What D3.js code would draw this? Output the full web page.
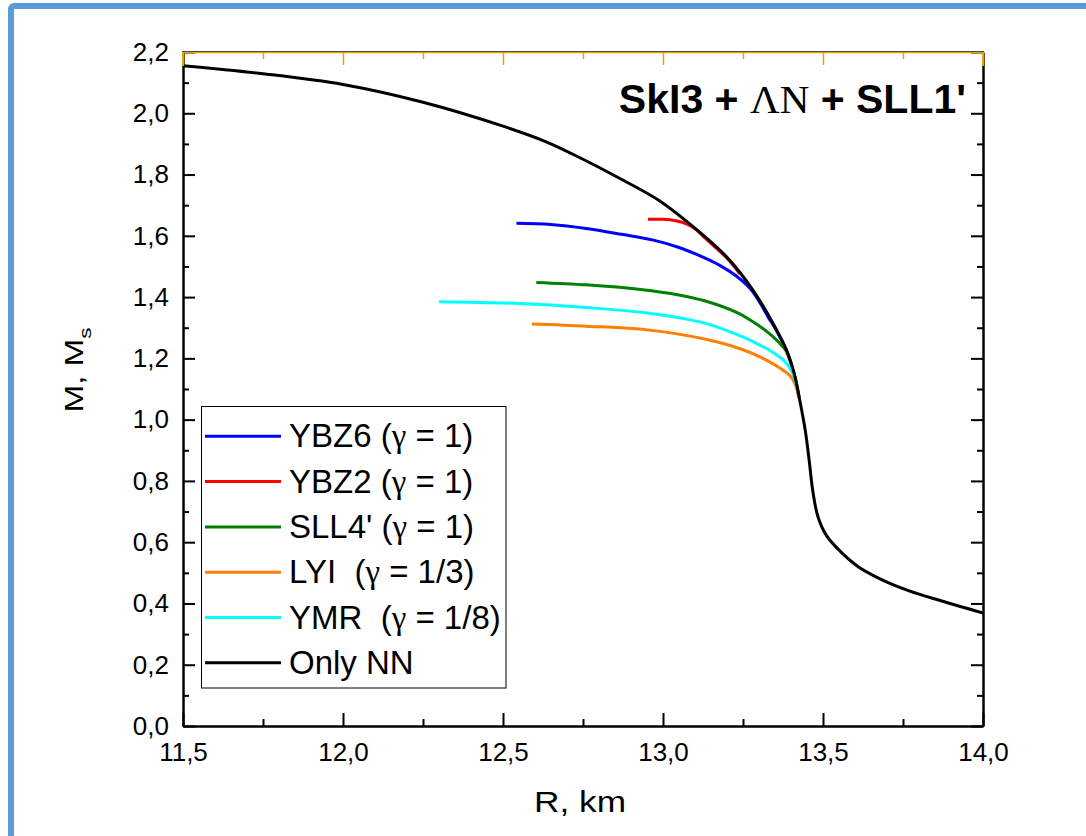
<!DOCTYPE html>
<html>
<head>
<meta charset="utf-8">
<script src="https://cdn.jsdelivr.net/npm/d3@7"></script>
<style>
  body { margin: 0; background: #fff; }
  svg { display: block; }
  text { font-family: "Liberation Sans", Arial, sans-serif; fill: #000; white-space: pre; }
</style>
</head>
<body>
<svg id="chart" width="1086" height="836"></svg>
<script>
// Axis ticks and their labels (comma decimal separator)
const xTicks = [11.5, 12.0, 12.5, 13.0, 13.5, 14.0];
const xTickLabels = ["11,5", "12,0", "12,5", "13,0", "13,5", "14,0"];
const xMinorTicks = [11.75, 12.25, 12.75, 13.25, 13.75];
const yTicks = [0, 0.2, 0.4, 0.6, 0.8, 1.0, 1.2, 1.4, 1.6, 1.8, 2.0, 2.2];
const yTickLabels = ["0,0", "0,2", "0,4", "0,6", "0,8", "1,0", "1,2", "1,4", "1,6", "1,8", "2,0", "2,2"];
const yMinorTicks = [0.1, 0.3, 0.5, 0.7, 0.9, 1.1, 1.3, 1.5, 1.7, 1.9, 2.1];

// Mass–radius curves: [R (km), M (solar masses)]
const onlyNN = [
  [11.5, 2.155], [11.75, 2.129], [12.0, 2.094], [12.25, 2.036], [12.5, 1.958],
  [12.635, 1.907], [12.75, 1.850], [12.864, 1.788], [12.99, 1.714], [13.094, 1.630],
  [13.198, 1.532], [13.281, 1.423], [13.344, 1.314], [13.386, 1.227], [13.41, 1.15],
  [13.428, 1.06], [13.445, 0.962], [13.457, 0.865], [13.468, 0.768], [13.484, 0.684],
  [13.51, 0.623], [13.555, 0.569], [13.61, 0.520], [13.683, 0.478], [13.767, 0.442],
  [13.871, 0.408], [14.0, 0.369]
];
const ybz6 = [
  [12.542, 1.641], [12.65, 1.637], [12.76, 1.624], [12.87, 1.605], [12.97, 1.586],
  [13.05, 1.562], [13.13, 1.528], [13.18, 1.502], [13.23, 1.468], [13.275, 1.425],
  [13.305, 1.378], [13.33, 1.332], [13.344, 1.310], [13.386, 1.225], [13.41, 1.148],
  [13.425, 1.07]
];
const ybz2 = [
  [12.953, 1.654], [13.0, 1.654], [13.04, 1.649], [13.075, 1.638], [13.105, 1.619],
  [13.13, 1.594], [13.198, 1.529], [13.24, 1.476]
];
const sll4 = [
  [12.604, 1.448], [12.76, 1.440], [12.93, 1.425], [13.05, 1.407], [13.13, 1.388],
  [13.23, 1.350], [13.28, 1.320], [13.33, 1.283], [13.36, 1.254], [13.385, 1.224],
  [13.41, 1.146], [13.425, 1.075]
];
const lyi = [
  [12.59, 1.312], [12.76, 1.305], [12.95, 1.293], [13.13, 1.263], [13.25, 1.228],
  [13.32, 1.196], [13.37, 1.165], [13.40, 1.140], [13.415, 1.110], [13.425, 1.07]
];
const ymr = [
  [12.30, 1.385], [12.552, 1.379], [12.76, 1.366], [12.95, 1.348], [13.13, 1.315],
  [13.23, 1.278], [13.30, 1.245], [13.35, 1.215], [13.385, 1.185], [13.405, 1.152],
  [13.42, 1.10]
];

// Legend entries, in drawing order
const seriesNames = ["YBZ6 ", "YBZ2 ", "SLL4' ", "LYI  ", "YMR  ", "Only NN"];
const seriesGamma = ["1", "1", "1", "1/3", "1/8", null];
const seriesColors = ["#0000ff", "#ff0000", "#008000", "#ff8000", "#00ffff", "#000000"];
const seriesData = [ybz6, ybz2, sll4, lyi, ymr, onlyNN];

const svg = d3.select("#chart");
const plotLeft = 183, plotRight = 983, plotTop = 52, plotBottom = 726;

// page frame
svg.append("rect")
  .attr("x", 11).attr("y", 6).attr("width", 1100).attr("height", 850)
  .attr("rx", 3).attr("fill", "none")
  .attr("stroke", "#5b9bd5").attr("stroke-width", 6);

const x = d3.scaleLinear().domain([11.5, 14.0]).range([plotLeft, plotRight]);
const y = d3.scaleLinear().domain([0, 2.2]).range([plotBottom, plotTop]);

// Curves (clipped to plot area)
svg.append("clipPath").attr("id", "plotClip")
  .append("rect").attr("x", plotLeft).attr("y", plotTop)
  .attr("width", plotRight - plotLeft).attr("height", plotBottom - plotTop);

const line = d3.line()
  .x(d => x(d[0])).y(d => y(d[1]))
  .curve(d3.curveCatmullRom.alpha(0.5));

const curves = svg.append("g").attr("clip-path", "url(#plotClip)");
seriesData.forEach((data, i) => {
  curves.append("path")
    .datum(data)
    .attr("d", line)
    .attr("fill", "none")
    .attr("stroke", seriesColors[i])
    .attr("stroke-width", 3)
    .attr("stroke-linejoin", "round")
    .attr("stroke-linecap", "butt");
});

// Axes
function styleAxis(g, color, width) {
  g.selectAll("path.domain").attr("stroke", color).attr("stroke-width", width);
  g.selectAll(".tick line").attr("stroke", color).attr("stroke-width", width);
  g.selectAll(".tick text")
    .attr("font-family", "'Liberation Sans', Arial, sans-serif")
    .attr("font-size", 26).attr("fill", "#000");
}

// bottom
const gxMinor = svg.append("g").attr("transform", `translate(0,${plotBottom})`)
  .call(d3.axisBottom(x).tickValues(xMinorTicks).tickFormat("").tickSizeInner(-7).tickSizeOuter(0));
styleAxis(gxMinor, "#000", 2);
const gx = svg.append("g").attr("transform", `translate(0,${plotBottom})`)
  .call(d3.axisBottom(x).tickValues(xTicks).tickFormat((d, i) => xTickLabels[i])
    .tickSizeInner(-13).tickSizeOuter(0).tickPadding(17));
styleAxis(gx, "#000", 2);

// left
const gyMinor = svg.append("g").attr("transform", `translate(${plotLeft},0)`)
  .call(d3.axisLeft(y).tickValues(yMinorTicks).tickFormat("").tickSizeInner(-6).tickSizeOuter(0));
styleAxis(gyMinor, "#000", 2);
const gy = svg.append("g").attr("transform", `translate(${plotLeft},0)`)
  .call(d3.axisLeft(y).tickValues(yTicks).tickFormat((d, i) => yTickLabels[i])
    .tickSizeInner(-12).tickSizeOuter(0).tickPadding(14));
styleAxis(gy, "#000", 2);

// right
const gyrMinor = svg.append("g").attr("transform", `translate(${plotRight},0)`)
  .call(d3.axisRight(y).tickValues(yMinorTicks).tickFormat("").tickSizeInner(-6).tickSizeOuter(0));
styleAxis(gyrMinor, "#000", 2);
const gyr = svg.append("g").attr("transform", `translate(${plotRight},0)`)
  .call(d3.axisRight(y).tickValues(yTicks).tickFormat("").tickSizeInner(-12).tickSizeOuter(0));
styleAxis(gyr, "#000", 2);

// top (gold)
const gold = "#e3a500";
const gxtMinor = svg.append("g").attr("transform", `translate(0,${plotTop})`)
  .call(d3.axisTop(x).tickValues(xMinorTicks).tickFormat("").tickSizeInner(-7).tickSizeOuter(0));
styleAxis(gxtMinor, gold, 1.5);
const gxt = svg.append("g").attr("transform", `translate(0,${plotTop})`)
  .call(d3.axisTop(x).tickValues(xTicks).tickFormat("").tickSizeInner(-13).tickSizeOuter(0));
styleAxis(gxt, gold, 1.5);
gxt.select("path.domain").remove();
gxtMinor.select("path.domain").remove();
svg.append("line").attr("x1", plotLeft - 1).attr("x2", plotRight + 1).attr("y1", plotTop + 0.5).attr("y2", plotTop + 0.5)
  .attr("stroke", gold).attr("stroke-width", 1.5);
svg.append("line").attr("x1", plotLeft - 1).attr("x2", plotRight + 1).attr("y1", plotTop - 0.5).attr("y2", plotTop - 0.5)
  .attr("stroke", "#4a4a4a").attr("stroke-width", 1.2);
// gold corner segments at the top of the vertical axes
[plotLeft, plotRight].forEach(px => {
  svg.append("line").attr("x1", px).attr("x2", px).attr("y1", plotTop).attr("y2", plotTop + 14)
    .attr("stroke", gold).attr("stroke-width", 2);
});

// Axis titles
svg.append("text")
  .attr("x", 580).attr("y", 812)
  .attr("text-anchor", "middle")
  .attr("font-size", 29)
  .attr("textLength", 92).attr("lengthAdjust", "spacingAndGlyphs")
  .text("R, km");

const yTitle = svg.append("text")
  .attr("transform", "translate(83,370) rotate(-90)")
  .attr("text-anchor", "middle")
  .attr("font-size", 25)
  .attr("textLength", 85).attr("lengthAdjust", "spacingAndGlyphs");
yTitle.append("tspan").text("M, M");
yTitle.append("tspan").attr("font-size", 17).attr("dy", 8).text("s");

// Chart title
const title = svg.append("text")
  .attr("x", 966).attr("y", 113)
  .attr("text-anchor", "end")
  .attr("font-size", 41);
title.append("tspan").attr("font-weight", "bold").text("SkI3 + ");
title.append("tspan").attr("font-family", "'Liberation Serif', 'Times New Roman', serif").text("ΛN");
title.append("tspan").attr("font-weight", "bold").text(" + SLL1'");

// Legend
const lg = svg.append("g");
lg.append("rect")
  .attr("x", 201.5).attr("y", 406.5).attr("width", 304.5).attr("height", 281.5)
  .attr("fill", "#fff").attr("stroke", "#000").attr("stroke-width", 1);
seriesNames.forEach((name, i) => {
  const ly = 436.3 + i * 45.3;
  lg.append("line")
    .attr("x1", 205).attr("x2", 281).attr("y1", ly).attr("y2", ly)
    .attr("stroke", seriesColors[i]).attr("stroke-width", 3);
  const t = lg.append("text").attr("x", 289).attr("y", ly + 11).attr("font-size", 33);
  t.append("tspan").text(name);
  if (seriesGamma[i] !== null) {
    t.append("tspan").text("(");
    t.append("tspan").attr("font-family", "'Liberation Serif', 'Times New Roman', serif").text("γ");
    t.append("tspan").text(" = " + seriesGamma[i] + ")");
  }
});
</script>
</body>
</html>
